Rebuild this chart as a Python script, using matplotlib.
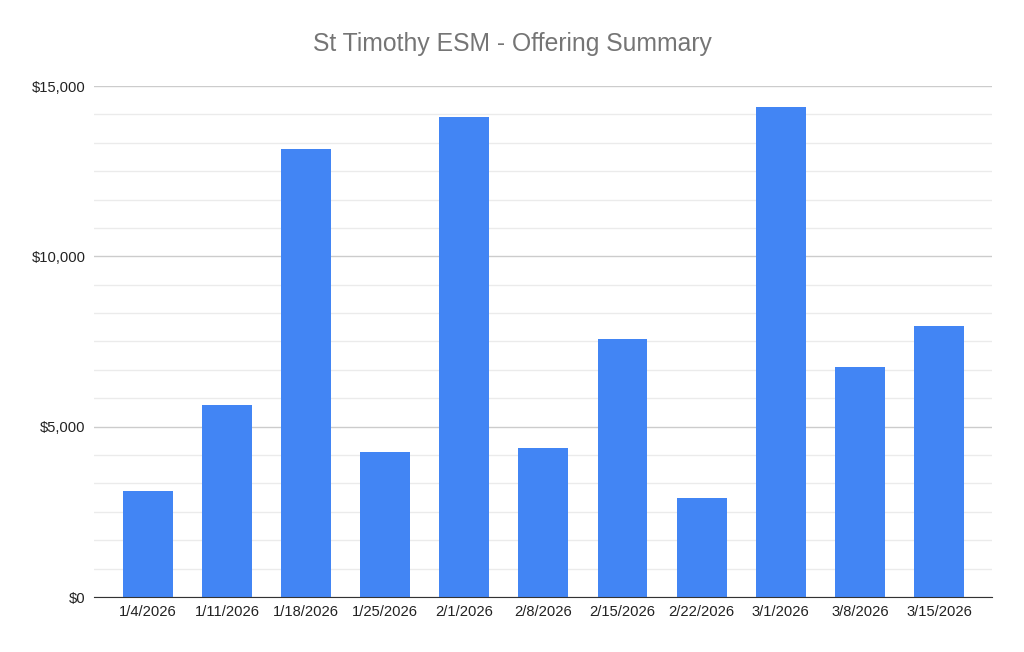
import numpy as np
import matplotlib.pyplot as plt
from matplotlib.ticker import FuncFormatter, MultipleLocator

plt.rcParams['font.family'] = ['Liberation Sans', 'DejaVu Sans']

dates = ['1/4/2026', '1/11/2026', '1/18/2026', '1/25/2026', '2/1/2026', '2/8/2026',
         '2/15/2026', '2/22/2026', '3/1/2026', '3/8/2026', '3/15/2026']
offerings = [3100, 5650, 13150, 4250, 14100, 4380, 7570, 2900, 14380, 6750, 7950]

fig = plt.figure(figsize=(10.24, 6.52), dpi=100)
ax = fig.add_axes([94 / 1024, 55 / 652, 898 / 1024, 511 / 652])

x = np.arange(len(dates))
ax.bar(x, offerings, width=0.63, color='#4285F4', zorder=3)

ax.set_xlim(-0.68, len(dates) - 1 + 0.67)
ax.set_ylim(0, 15000)
ax.yaxis.set_major_locator(MultipleLocator(5000))
ax.yaxis.set_minor_locator(MultipleLocator(5000 / 6))
ax.yaxis.set_major_formatter(FuncFormatter(lambda v, p: '${:,.0f}'.format(v)))
ax.grid(axis='y', which='major', color='#cccccc', linewidth=1, zorder=0)
ax.grid(axis='y', which='minor', color='#ebebeb', linewidth=1, zorder=0)

ax.set_xticks(x)
ax.set_xticklabels(dates)
ax.tick_params(axis='both', which='both', length=0, labelsize=10.6, colors='#222222')
ax.tick_params(axis='x', pad=6)
ax.tick_params(axis='y', pad=6)

for s in ['top', 'right', 'left']:
    ax.spines[s].set_visible(False)
ax.spines['bottom'].set_color('#333333')
ax.spines['bottom'].set_zorder(4)

fig.text(0.5, 1 - 44 / 652, 'St Timothy ESM - Offering Summary', ha='center', va='center',
         fontsize=17.8, color='#757575')

fig.savefig('out.png', dpi=100)
